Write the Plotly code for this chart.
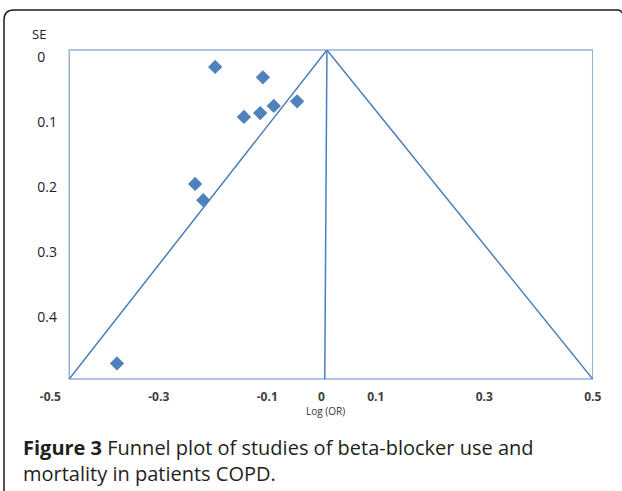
import plotly.graph_objects as go

W, H = 622, 491

# ---- data ----
log_or = [-0.196, -0.108, -0.143, -0.113, -0.088, -0.045, -0.233, -0.218, -0.377]
se = [0.015, 0.031, 0.092, 0.086, 0.075, 0.068, 0.195, 0.220, 0.471]

funnel_x = [-0.465, 0.010, 0.500]
funnel_y = [0.495, -0.011, 0.495]
null_x = [0.010, 0.006]
null_y = [-0.011, 0.495]

x_range = [-0.5005, 0.5005]
y_range = [0.495, -0.011]
frame_left = -0.465

x_tickvals = [-0.5, -0.3, -0.1, 0, 0.1, 0.3, 0.5]
x_ticktext = ["-0.5", "-0.3", "-0.1", "0", "0.1", "0.3", "0.5"]
y_tickvals = [0, 0.1, 0.2, 0.3, 0.4]
y_ticktext = ["0\u2008\u2007", "0.1", "0.2", "0.3", "0.4"]

caption_lines = ["<b>Figure 3</b> Funnel plot of studies of beta-blocker use and",
                 "mortality in patients COPD."]


def px(x):
    return x / W


def py(y):
    return 1 - y / H


BLUE = "#4f81bd"
LINE = "#4a7ebb"
FRAME = "#95b3d7"

fig = go.Figure()
fig.add_trace(go.Scatter(x=funnel_x, y=funnel_y, mode="lines",
                         line=dict(color=LINE, width=1.5), hoverinfo="skip"))
fig.add_trace(go.Scatter(x=null_x, y=null_y, mode="lines",
                         line=dict(color=LINE, width=1.5), hoverinfo="skip"))
fig.add_trace(go.Scatter(x=log_or, y=se, mode="markers",
                         marker=dict(symbol="diamond", size=11, color=BLUE,
                                     line=dict(width=0))))

fig.update_layout(
    width=W, height=H,
    margin=dict(l=0, r=0, t=0, b=0),
    paper_bgcolor="white", plot_bgcolor="white",
    showlegend=False,
    xaxis=dict(domain=[px(50), px(593)], range=x_range, anchor="y",
               showgrid=False, zeroline=False, showline=False, ticks="",
               tickmode="array", tickvals=x_tickvals, ticktext=x_ticktext,
               tickfont=dict(family="Open Sans", size=12, color="#404040", weight="bold"),
               ticklabelstandoff=9, automargin=False),
    yaxis=dict(domain=[py(379), py(50)], range=y_range, anchor="free",
               position=px(69),
               showgrid=False, zeroline=False, showline=False, ticks="",
               tickmode="array", tickvals=y_tickvals, ticktext=y_ticktext,
               tickfont=dict(family="Open Sans", size=14, color="#222222"),
               ticklabelstandoff=12, automargin=False),
    shapes=[
        dict(type="rect", xref="x", yref="y domain", x0=frame_left, x1=x_range[1] - 0.0005,
             y0=0, y1=1, line=dict(color=FRAME, width=1.5), layer="below"),
        dict(type="path", xref="paper", yref="paper",
             path=f"M {px(4)},{py(495)} L {px(4)},{py(20)} Q {px(4)},{py(10)} {px(14)},{py(10)} "
                  f"L {px(618)},{py(10)} Q {px(621)},{py(10)} {px(622)},{py(13)}",
             line=dict(color="#1a1a1a", width=1.5)),
    ],
    annotations=[
        dict(text="SE", xref="paper", yref="paper", x=px(39), y=py(34),
             xanchor="center", yanchor="middle",
             showarrow=False, font=dict(family="Open Sans", size=13, color="#222222")),
        dict(text="Log (OR)", xref="paper", yref="paper", x=px(325), y=py(411),
             xanchor="center", yanchor="middle",
             showarrow=False, font=dict(family="Open Sans", size=10, color="#333333")),
        dict(text="<br>".join(caption_lines), xref="paper", yref="paper",
             x=px(21), y=py(460), align="left",
             xanchor="left", yanchor="middle", showarrow=False,
             font=dict(family="Open Sans", size=20, color="#231f20")),
    ],
)

fig.write_html("out.html", config={"displayModeBar": False},
               post_script="document.body.style.margin='0';")
